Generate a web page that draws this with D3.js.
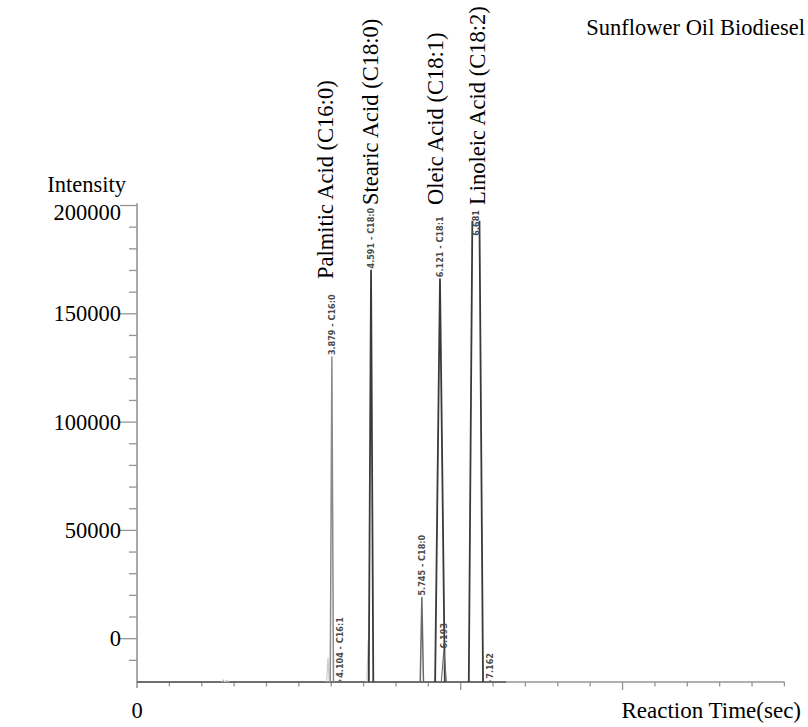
<!DOCTYPE html>
<html>
<head>
<meta charset="utf-8">
<script src="https://cdn.jsdelivr.net/npm/d3@7"></script>
<style>
  body { margin: 0; background: #fff; }
  text { font-family: "Liberation Serif", "Times New Roman", serif; }
</style>
</head>
<body>
<div id="chart"></div>
<script>
// chromatogram (time axis in tick units 0..20)
var compoundNames = ["Palmitic Acid (C16:0)", "Stearic Acid (C18:0)", "Oleic Acid (C18:1)", "Linoleic Acid (C18:2)"];
var compoundPeak = [3, 6, 8, 10];

var peakTimes   = [2.66, 2.78, 5.90, 6.02, 6.27, 7.14, 7.23, 8.80, 9.36, 9.48, 10.47, 10.91];
var peakHeights = [-19000, -19200, -8800, 130000, -19000, -1000, 170000, 19000, 166000, -5500, 193000, -19400];
var peakWidths  = [0.05, 0.05, 0.04, 0.05, 0.07, 0.04, 0.07, 0.05, 0.15, 0.08, 0.22, 0.07];
var peakTops    = [0, 0, 0, 0, 0, 0, 0, 0, 0, 0, 0.11, 0];
var peakLabels  = ["", "", "", "3.879 - C16:0", "4.104 - C16:1", "", "4.591 - C18:0", "5.745 - C18:0", "6.121 - C18:1", "6.193", "6.681", "7.162"];

var yTickValues = [0, 50000, 100000, 150000, 200000];
var baseValue = -20000;
var traceEnd = 11.4;

// layout: horizontal nudge of each compound name from its peak (px)
var nameShift = [1, 7, 3, 9];

var svgWidth = 808;
var svgHeight = 727;

var svg = d3.select("#chart")
  .append("svg")
    .attr("width", svgWidth)
    .attr("height", svgHeight);

var x = d3.scaleLinear().domain([0, 20]).range([137, 784.4]);
var y = d3.scaleLinear().domain([baseValue, 200000]).range([682, 205.5]);

var axisColor = "#959595";

// axes lines
svg.append("line")
  .attr("x1", x(0)).attr("x2", x(0))
  .attr("y1", y(201000)).attr("y2", y(baseValue) + 6)
  .attr("stroke", axisColor).attr("stroke-width", 1.6);

svg.append("line")
  .attr("x1", x(0)).attr("x2", x(20))
  .attr("y1", y(baseValue)).attr("y2", y(baseValue))
  .attr("stroke", axisColor).attr("stroke-width", 1.6);

// y ticks
var yMinor = d3.range(-10000, 200001, 10000);
svg.selectAll(".ytick")
  .data(yMinor)
  .enter().append("line")
    .attr("x1", d => yTickValues.includes(d) ? x(0) - 17 : x(0) - 8)
    .attr("x2", x(0))
    .attr("y1", d => y(d)).attr("y2", d => y(d))
    .attr("stroke", axisColor).attr("stroke-width", 1.3);

// top label sits just under the "Intensity" caption
svg.selectAll(".ylabel")
  .data(yTickValues)
  .enter().append("text")
    .attr("x", 121)
    .attr("y", d => Math.max(y(d), y(200000) + 7))
    .attr("dy", "0.33em")
    .attr("text-anchor", "end")
    .style("font-size", "22.5px")
    .text(d => d);

// x ticks
svg.selectAll(".xtick")
  .data(x.ticks(20).filter(d => d > 0))
  .enter().append("line")
    .attr("x1", d => x(d)).attr("x2", d => x(d))
    .attr("y1", y(baseValue))
    .attr("y2", d => (d === 10 || d === 15) ? y(baseValue) + 8 : y(baseValue) + 4.5)
    .attr("stroke", axisColor).attr("stroke-width", 1.3);

// baseline trace
var line = d3.line().x(d => x(d[0])).y(d => y(d[1]));

svg.append("path")
  .attr("d", line([[0, baseValue], [traceEnd, baseValue]]))
  .attr("fill", "none")
  .attr("stroke", "#5a5a5a")
  .attr("stroke-width", 1.4);

// peaks
var peaks = peakTimes.map(function(t, i) {
  return {t: t, h: peakHeights[i], w: peakWidths[i], top: peakTops[i], label: peakLabels[i]};
});

function peakStroke(p) {
  if (p.h >= 150000) return "#3a3a3a";
  if (p.label === "") return "#c8c8c8";
  if (p.h > 100000) return "#8a8a8a";
  return "#6a6a6a";
}

// off-scale peaks are drawn as two open flanks
svg.selectAll(".peak")
  .data(peaks)
  .enter().append("path")
    .attr("d", function(p) {
      if (p.top > 0) {
        return line([[p.t - p.w, baseValue], [p.t - p.top, p.h]]) +
               line([[p.t + p.top, p.h], [p.t + p.w, baseValue]]);
      }
      return line([[p.t - p.w, baseValue], [p.t, p.h], [p.t + p.w, baseValue]]);
    })
    .attr("fill", "none")
    .attr("stroke", peakStroke)
    .attr("stroke-width", p => p.h >= 150000 ? 1.8 : (p.h > 0 ? 1.5 : 1.1))
    .attr("stroke-linejoin", "round");

// retention time labels on peaks
svg.selectAll(".plabel")
  .data(peaks.filter(p => p.label !== ""))
  .enter().append("text")
    .attr("transform", p => `translate(${x(p.t)}, ${p.top > 0 ? y(p.h) + 15 : y(p.h) - 2}) rotate(-90)`)
    .attr("dy", "0.35em")
    .attr("text-anchor", "start")
    .style("font-family", "'DejaVu Sans Condensed', 'DejaVu Sans', sans-serif")
    .style("font-size", "9px")
    .style("font-weight", "bold")
    .attr("fill", "#4a4a4a")
    .text(p => p.label);

// compound names
svg.selectAll(".cname")
  .data(compoundNames)
  .enter().append("text")
    .attr("transform", function(d, i) {
      var p = peaks[compoundPeak[i]];
      var bottom = Math.max(y(p.h) - 78, 205);
      return `translate(${x(p.t) + nameShift[i]}, ${bottom}) rotate(-90)`;
    })
    .attr("text-anchor", "start")
    .style("font-size", "22.5px")
    .text(d => d);

// titles
svg.append("text")
  .attr("x", 805).attr("y", 35)
  .attr("text-anchor", "end")
  .style("font-size", "22.5px")
  .text("Sunflower Oil Biodiesel");

svg.append("text")
  .attr("x", 126).attr("y", 192)
  .attr("text-anchor", "end")
  .style("font-size", "22.5px")
  .text("Intensity");

svg.append("text")
  .attr("x", x(0)).attr("y", 718)
  .attr("text-anchor", "middle")
  .style("font-size", "22.5px")
  .text("0");

svg.append("text")
  .attr("x", 801).attr("y", 718)
  .attr("text-anchor", "end")
  .style("font-size", "23px")
  .text("Reaction Time(sec)");
</script>
</body>
</html>
